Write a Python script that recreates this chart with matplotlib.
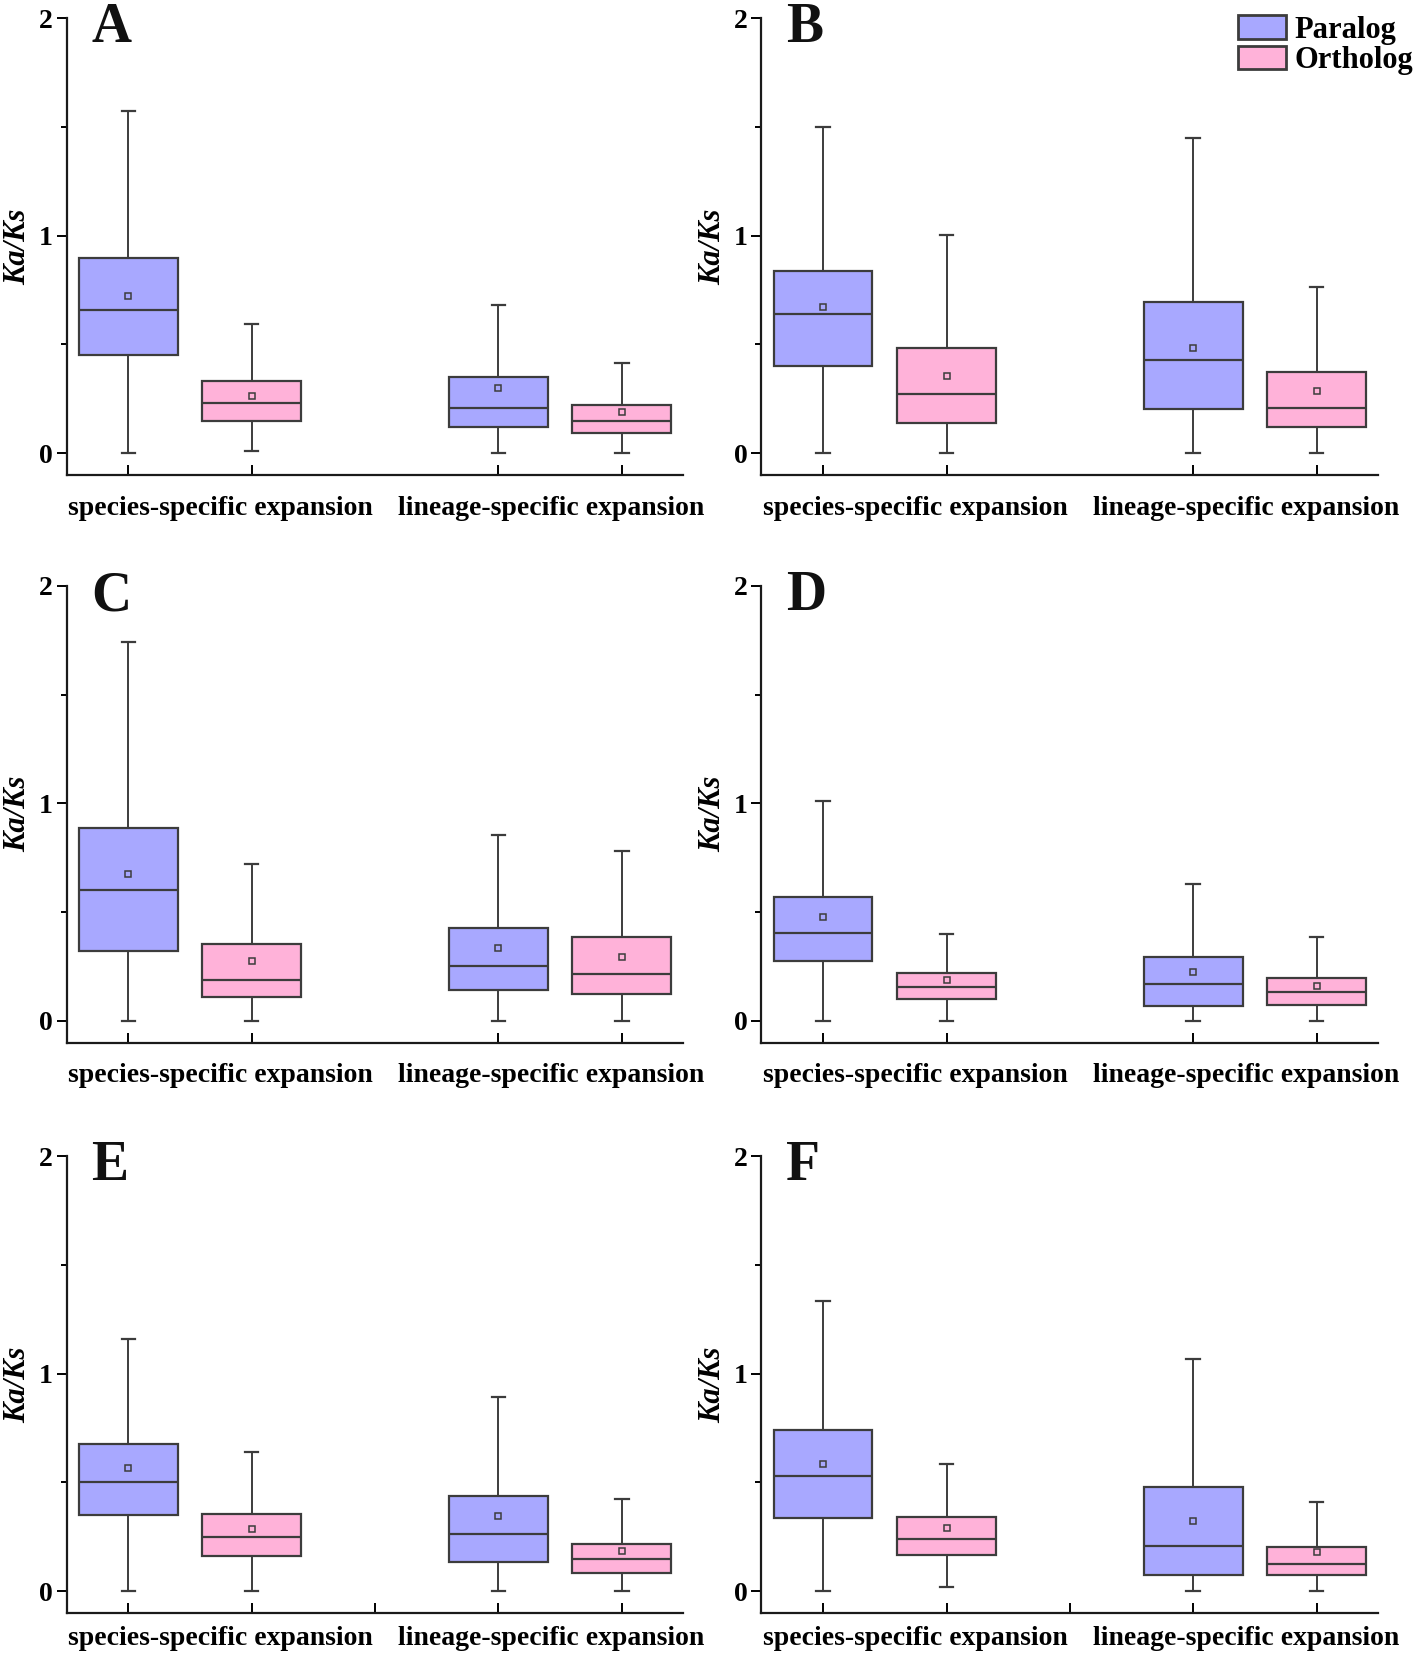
import matplotlib

matplotlib.use("Agg")
import matplotlib.pyplot as plt
from matplotlib.patches import Patch
from matplotlib.ticker import MultipleLocator

plt.rcParams["font.family"] = ["Liberation Serif", "DejaVu Serif"]

PANELS = ["A", "B", "C", "D", "E", "F"]
GROUPS = ["species-specific expansion", "lineage-specific expansion"]
SERIES = ["Paralog", "Ortholog"]

# per panel: [paralog species, ortholog species, paralog lineage, ortholog lineage]
WHISHI = [
    [1.573, 0.592, 0.680, 0.417],
    [1.500, 1.005, 1.447, 0.762],
    [1.742, 0.720, 0.856, 0.783],
    [1.012, 0.399, 0.628, 0.384],
    [1.160, 0.641, 0.893, 0.422],
    [1.335, 0.587, 1.068, 0.408],
]
Q3 = [
    [0.898, 0.330, 0.350, 0.223],
    [0.840, 0.485, 0.694, 0.374],
    [0.886, 0.355, 0.428, 0.384],
    [0.569, 0.219, 0.292, 0.195],
    [0.675, 0.354, 0.437, 0.218],
    [0.743, 0.340, 0.481, 0.204],
]
MED = [
    [0.660, 0.233, 0.209, 0.146],
    [0.641, 0.272, 0.427, 0.209],
    [0.603, 0.190, 0.253, 0.214],
    [0.404, 0.156, 0.170, 0.131],
    [0.500, 0.248, 0.262, 0.146],
    [0.529, 0.238, 0.209, 0.126],
]
Q1 = [
    [0.451, 0.150, 0.121, 0.092],
    [0.403, 0.141, 0.204, 0.121],
    [0.321, 0.112, 0.141, 0.122],
    [0.277, 0.102, 0.068, 0.073],
    [0.350, 0.160, 0.136, 0.083],
    [0.335, 0.165, 0.073, 0.073],
]
WHISLO = [
    [0.0, 0.010, 0.0, 0.0],
    [0.0, 0.0, 0.0, 0.0],
    [0.0, 0.0, 0.0, 0.0],
    [0.0, 0.0, 0.0, 0.0],
    [0.0, 0.0, 0.0, 0.0],
    [0.0, 0.020, 0.0, 0.0],
]
MEAN = [
    [0.723, 0.262, 0.301, 0.189],
    [0.670, 0.354, 0.485, 0.286],
    [0.676, 0.277, 0.336, 0.292],
    [0.477, 0.190, 0.224, 0.160],
    [0.568, 0.286, 0.345, 0.184],
    [0.587, 0.291, 0.325, 0.180],
]

POSITIONS = [1, 2, 4, 5]
COLORS = ["#a8a8ff", "#ffb2d9"]
EDGE = "#3c3c3c"

# axes rectangles in figure fractions
LEFTS = [0.047, 0.537]
BOTTOMS = [0.713, 0.370, 0.0254]
W, H = 0.435, 0.276
LABEL_Y = [-0.195, -0.195, -0.158]

fig = plt.figure(figsize=(14.18, 16.55), dpi=100)

for i, letter in enumerate(PANELS):
    row, col = divmod(i, 2)
    ax = fig.add_axes([LEFTS[col], BOTTOMS[row], W, H])
    stats = []
    for j in range(4):
        stats.append(dict(whislo=WHISLO[i][j], q1=Q1[i][j], med=MED[i][j],
                          q3=Q3[i][j], whishi=WHISHI[i][j], mean=MEAN[i][j],
                          fliers=[]))
    bp = ax.bxp(stats, positions=POSITIONS, widths=0.8, capwidths=0.11,
                patch_artist=True, showmeans=True,
                boxprops=dict(edgecolor=EDGE, linewidth=1.6),
                medianprops=dict(color=EDGE, linewidth=1.6),
                whiskerprops=dict(color=EDGE, linewidth=1.4),
                capprops=dict(color=EDGE, linewidth=1.6),
                meanprops=dict(marker="s", markersize=4.5, markerfacecolor="none",
                               markeredgecolor=EDGE, markeredgewidth=1.1))
    for j, box in enumerate(bp["boxes"]):
        box.set_facecolor(COLORS[j % 2])

    ax.set_xlim(0.5, 5.5)
    ax.set_ylim(-0.1, 2)
    for s in ("top", "right"):
        ax.spines[s].set_visible(False)
    for s in ("left", "bottom"):
        ax.spines[s].set_linewidth(1.6)
        ax.spines[s].set_color("#1a1a1a")

    ax.yaxis.set_major_locator(MultipleLocator(1))
    ax.yaxis.set_minor_locator(MultipleLocator(0.5))
    ax.tick_params(axis="y", which="major", direction="out", length=7, width=1.4,
                   labelsize=20, pad=3)
    ax.tick_params(axis="y", which="minor", direction="out", length=4, width=1.4)
    for t in ax.get_yticklabels():
        t.set_fontweight("bold")

    # bottom row has an extra tick between the two groups
    xt = POSITIONS + [3] if row == 2 else POSITIONS
    ax.set_xticks(xt)
    ax.set_xticklabels([])
    ax.tick_params(axis="x", direction="in", length=7, width=1.4)

    for gx, g in zip([1.75, 4.43], GROUPS):
        ax.text(gx, LABEL_Y[row], g, ha="center", va="top", fontsize=20,
                fontweight="bold")

    ax.set_ylabel("Ka/Ks", fontsize=22, fontweight="bold", fontstyle="italic",
                  labelpad=5)
    ax.text(0.04, 0.947, letter, transform=ax.transAxes, fontsize=40,
            fontweight="bold", va="baseline", ha="left", color="#111111")

handles = [Patch(facecolor=c, edgecolor=EDGE, linewidth=2) for c in COLORS]
fig.legend(handles, SERIES, loc="upper left", bbox_to_anchor=(0.862, 1.0),
           frameon=False, borderpad=0, handlelength=1.6, handleheight=0.8,
           handletextpad=0.25, labelspacing=0.04,
           prop=dict(family="Liberation Serif", weight="bold", size=22))

fig.savefig("out.png", dpi=100)
